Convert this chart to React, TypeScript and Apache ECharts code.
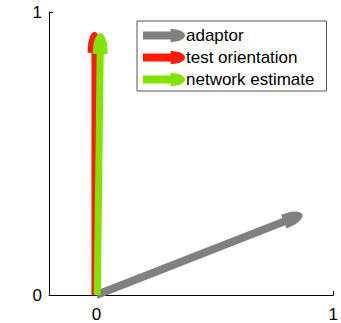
import React, { useEffect, useRef } from "react";
import * as echarts from "echarts";

// Vector endpoints: [x0, y0, x1, y1]
const seriesNames = ["adaptor", "test orientation", "network estimate"];
const adaptorVec = [0, 0, 0.87, 0.285];
const testVec = [-0.008, 0, -0.008, 0.93];
const networkVec = [0.004, 0, 0.017, 0.926];
const xTicks = [0, 1];
const yTicks = [0, 1];

const colors = ["#808080", "#ff1a00", "#80e400"];
// shaft width, head width, head length (px)
const arrowDims = [
  { shaft: 8, head: 15, len: 20 },
  { shaft: 6, head: 14, len: 21 },
  { shaft: 7, head: 15, len: 21 },
];

const legendArrow =
  "path://M0 2.5 L27 2.5 L27 0 L35 1.2 Q41 3.5 41 6.5 Q41 9.5 35 11.8 L27 13 L27 10.5 L0 10.5 Z";

function arrowRenderer(dim: { shaft: number; head: number; len: number }) {
  return (params: any, api: any) => {
    const p0 = api.coord([api.value(0), api.value(1)]);
    const p1 = api.coord([api.value(2), api.value(3)]);
    const dx = p1[0] - p0[0];
    const dy = p1[1] - p0[1];
    const L = Math.sqrt(dx * dx + dy * dy) || 1;
    const u = [dx / L, dy / L];
    const n = [-u[1], u[0]];
    const hl = Math.min(dim.len, L);
    const base = [p1[0] - u[0] * hl, p1[1] - u[1] * hl];
    const at = (origin: number[], along: number, side: number) => [
      origin[0] + u[0] * along + n[0] * side,
      origin[1] + u[1] * along + n[1] * side,
    ];
    const s = dim.shaft / 2;
    const h = dim.head / 2;
    const pts = [
      at(p0, 0, s),
      at(base, 0, s),
      at(base, 0, h),
      at(base, hl * 0.5, h * 0.88),
      at(base, hl * 0.8, h * 0.62),
      at(base, hl * 0.95, h * 0.3),
      [p1[0], p1[1]],
      at(base, hl * 0.95, -h * 0.3),
      at(base, hl * 0.8, -h * 0.62),
      at(base, hl * 0.5, -h * 0.88),
      at(base, 0, -h),
      at(base, 0, -s),
      at(p0, 0, -s),
    ];
    return {
      type: "polygon",
      shape: { points: pts },
      style: { fill: api.visual("color"), stroke: null },
    };
  };
}

export default function App() {
  const ref = useRef<HTMLDivElement>(null);

  useEffect(() => {
    document.body.style.margin = "0";
    const chart = echarts.init(ref.current!, undefined, { renderer: "svg" });
    const vectors = [adaptorVec, testVec, networkVec];
    const font = "'Liberation Sans', Arial, Helvetica, sans-serif";

    chart.setOption({
      animation: false,
      backgroundColor: "#ffffff",
      textStyle: { fontFamily: font },
      grid: { left: 49, right: 3, top: 12, bottom: 27, containLabel: false },
      xAxis: {
        type: "value",
        min: -0.2,
        max: 1,
        splitLine: { show: false },
        axisLine: { show: true, onZero: false, lineStyle: { color: "#000", width: 1 } },
        axisTick: { show: true, inside: true, length: 4, customValues: xTicks, lineStyle: { color: "#000" } },
        axisLabel: { customValues: xTicks, color: "#000", fontSize: 17, margin: 11, fontFamily: font },
      },
      yAxis: {
        type: "value",
        min: 0,
        max: 1,
        splitLine: { show: false },
        axisLine: { show: true, onZero: false, lineStyle: { color: "#000", width: 1 } },
        axisTick: { show: true, inside: true, length: 4, customValues: yTicks, lineStyle: { color: "#000" } },
        axisLabel: { customValues: yTicks, color: "#000", fontSize: 17, margin: 7, fontFamily: font },
      },
      legend: {
        orient: "vertical",
        left: 137,
        top: 21,
        itemWidth: 42,
        itemHeight: 14,
        itemGap: 5,
        padding: [6, 12, 3, 6],
        borderColor: "#555",
        borderWidth: 1,
        backgroundColor: "#fff",
        textStyle: { color: "#000", fontSize: 17, fontFamily: font, padding: [0, 0, 0, -4] },
        data: seriesNames.map((name) => ({ name, icon: legendArrow })),
      },
      series: seriesNames.map((name, i) => ({
        name,
        type: "custom",
        coordinateSystem: "cartesian2d",
        itemStyle: { color: colors[i] },
        encode: { x: [0, 2], y: [1, 3] },
        renderItem: arrowRenderer(arrowDims[i]),
        data: [vectors[i]],
        z: 2 + i,
      })),
    });

    return () => chart.dispose();
  }, []);

  return (
    <div
      ref={ref}
      style={{ position: "absolute", left: 0, top: 0, width: 341, height: 323 }}
    />
  );
}
